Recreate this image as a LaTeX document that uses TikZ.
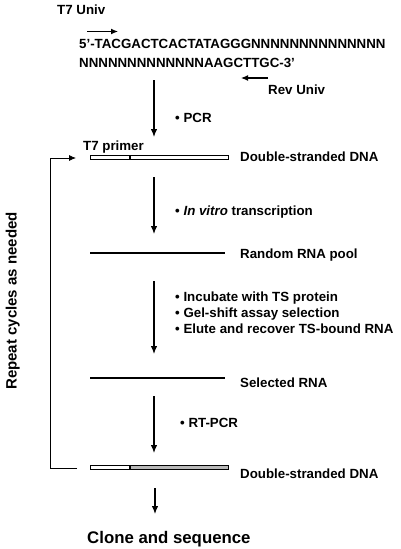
\documentclass[tikz,border=0pt]{standalone}
\usepackage{fontspec}
\setmainfont{Liberation Sans}
\usetikzlibrary{arrows.meta}
\begin{document}
\begin{tikzpicture}[x=1pt,y=-1pt,
  lbl/.style={anchor=base west,inner sep=0pt,font=\fontsize{13.3}{15}\selectfont\bfseries},
  big/.style={inner sep=0pt,font=\fontsize{16.8}{19}\selectfont\bfseries},
  flow/.style={line width=1.2pt,-{Latex[length=8pt,width=6.5pt]}},
  primer/.style={line width=1.2pt,-{Latex[length=7pt,width=6pt]}},
  rna/.style={line width=2pt},
  loopline/.style={line width=0.8pt,-{Latex[length=7pt,width=6pt]}},
  bar/.style={draw,line width=0.8pt,inner sep=0pt,minimum height=4.5pt,fill=white},
  hatchbar/.style={bar,fill=black!28}]
\useasboundingbox (0,0) rectangle (400,549);

% top sequence
\node[lbl] (t7u) at (57,14.5) {T7 Univ};
\coordinate (p1s) at (87,31.5);
\coordinate (p1e) at (118,31.5);
\draw[primer] (p1s) -- (p1e);
\node[lbl] (seq1) at (79,48.5) {5'-TACGACTCACTATAGGGNNNNNNNNNNNNNN};
\node[lbl] (seq2) at (79,67) {NNNNNNNNNNNNNAAGCTTGC-3'};
\coordinate (p2s) at (268,78);
\coordinate (p2e) at (241,78);
\draw[primer] (p2s) -- (p2e);
\node[lbl] (revu) at (268,94) {Rev Univ};

% step 1
\coordinate (a1s) at (154,80);
\coordinate (a1e) at (154,137);
\draw[flow] (a1s) -- (a1e);
\node[lbl] (pcr) at (175,122) {• PCR};

% DNA 1
\node[lbl] (t7p) at (83,150) {T7 primer};
\node[bar,minimum width=39pt,anchor=west] (d1a) at (90,157.5) {};
\node[bar,minimum width=98pt,anchor=west] (d1b) at (d1a.east) {};
\node[lbl] (ds1) at (240,161) {Double-stranded DNA};

% step 2
\coordinate (a2s) at (154,177);
\coordinate (a2e) at (154,234);
\draw[flow] (a2s) -- (a2e);
\node[lbl] (ivt) at (175,215) {• \textit{In vitro} transcription};

% Random RNA
\coordinate (r1a) at (90,252.7);
\coordinate (r1b) at (225,252.7);
\draw[rna] (r1a) -- (r1b);
\node[lbl] (rrp) at (240,258) {Random RNA pool};

% step 3
\coordinate (a3s) at (154,281);
\coordinate (a3e) at (154,354);
\draw[flow] (a3s) -- (a3e);
\node[lbl] (b1) at (175,301) {• Incubate with TS protein};
\node[lbl] (b2) at (175,317) {• Gel-shift assay selection};
\node[lbl] (b3) at (175,333) {• Elute and recover TS-bound RNA};

% Selected RNA
\coordinate (r2a) at (90,377.7);
\coordinate (r2b) at (225,377.7);
\draw[rna] (r2a) -- (r2b);
\node[lbl] (srna) at (240,387) {Selected RNA};

% step 4
\coordinate (a4s) at (154,396);
\coordinate (a4e) at (154,453);
\draw[flow] (a4s) -- (a4e);
\node[lbl] (rtpcr) at (180,427) {• RT-PCR};

% DNA 2
\node[bar,minimum width=39pt,anchor=west] (d2a) at (90,467.5) {};
\node[hatchbar,minimum width=98pt,anchor=west] (d2b) at (d2a.east) {};
\node[lbl] (ds2) at (240,478) {Double-stranded DNA};

% step 5
\coordinate (a5s) at (155,488);
\coordinate (a5e) at (155,514);
\draw[flow] (a5s) -- (a5e);
\node[big,anchor=base west] (clone) at (87,543) {Clone and sequence};

% loop
\coordinate (lb) at (77,468);
\coordinate (lt) at (76,158);
\draw[loopline] (lb) -- (50,468) -- (50,158) -- (lt);
\node[big,font=\fontsize{15}{17}\selectfont\bfseries,rotate=90,anchor=base] (rep) at (16.5,301) {Repeat cycles as needed};
\end{tikzpicture}
\end{document}
